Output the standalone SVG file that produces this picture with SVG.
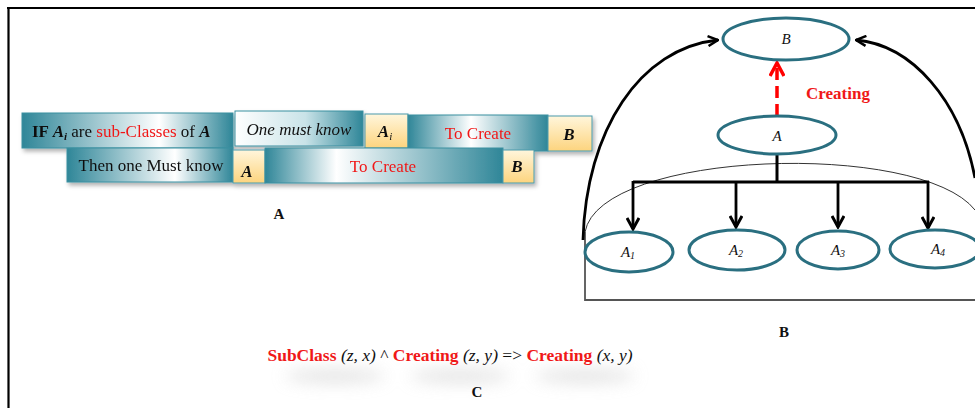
<svg xmlns="http://www.w3.org/2000/svg" width="975" height="408" viewBox="0 0 975 408">
<defs>
<linearGradient id="gT1" x1="0" y1="0" x2="1" y2="0">
<stop offset="0" stop-color="#2f8698"/><stop offset="0.65" stop-color="#ffffff"/><stop offset="1" stop-color="#2f8698"/>
</linearGradient>
<linearGradient id="gT2" x1="0" y1="0" x2="1" y2="0">
<stop offset="0" stop-color="#ffffff"/><stop offset="0.55" stop-color="#c9e3e8"/><stop offset="1" stop-color="#2f8698"/>
</linearGradient>
<linearGradient id="gT3" x1="0" y1="0" x2="1" y2="0">
<stop offset="0" stop-color="#2f8698"/><stop offset="0.45" stop-color="#ffffff"/><stop offset="1" stop-color="#2f8698"/>
</linearGradient>
<linearGradient id="gT4" x1="0" y1="0" x2="1" y2="0">
<stop offset="0" stop-color="#2f8698"/><stop offset="0.3" stop-color="#ffffff"/><stop offset="1" stop-color="#2f8698"/>
</linearGradient>
<linearGradient id="gY" x1="0" y1="0" x2="0" y2="1">
<stop offset="0" stop-color="#fff6dc"/><stop offset="1" stop-color="#fdd47e"/>
</linearGradient>
<filter id="sh" x="-10%" y="-20%" width="130%" height="160%">
<feDropShadow dx="2" dy="3" stdDeviation="2" flood-color="#000" flood-opacity="0.3"/>
</filter>
<filter id="blur" x="-50%" y="-200%" width="200%" height="500%"><feGaussianBlur stdDeviation="8"/></filter>
<marker id="ab" viewBox="0 0 12 12" refX="11" refY="6" markerWidth="12" markerHeight="12" markerUnits="userSpaceOnUse" orient="auto">
<path d="M1,1 L11,6 L1,11" fill="none" stroke="#000" stroke-width="2.5"/>
</marker>
<marker id="ad" viewBox="0 0 14 14" refX="12" refY="7" markerWidth="14" markerHeight="14" markerUnits="userSpaceOnUse" orient="auto">
<path d="M1,1 L12,7 L1,13" fill="none" stroke="#000" stroke-width="3"/>
</marker>
<marker id="ar" viewBox="0 0 16 16" refX="14" refY="8" markerWidth="16" markerHeight="16" markerUnits="userSpaceOnUse" orient="auto">
<path d="M1,1 L14,8 L1,15" fill="none" stroke="#f00" stroke-width="3.5"/>
</marker>
</defs>
<style>
text{font-family:"Liberation Serif","Times New Roman",serif;fill:#111}
.box{stroke:#3b8fa0;stroke-width:1}
.yb{fill:url(#gY);stroke:#4a9aab;stroke-width:1}
.t16{font-size:17px}
.red{fill:#f01818}
.bi{font-weight:bold;font-style:italic}
.it{font-style:italic}
.ell{fill:#fff;stroke:#2a6f80;stroke-width:3}
.lab{font-size:15px;font-weight:bold;text-anchor:middle}
</style>
<rect width="975" height="408" fill="#fff"/>
<!-- frame -->
<path d="M7,8 H975 M8.5,8 V408" stroke="#000" stroke-width="2.2" fill="none"/>

<!-- Panel A -->
<g id="panelA" filter="url(#sh)">
<g id="a-if"><rect class="box" x="22" y="113" width="211" height="35" fill="url(#gT1)"/>
<text class="t16" x="32" y="137"><tspan font-weight="bold">IF </tspan><tspan class="bi">A</tspan><tspan class="bi" font-size="11" dy="3">i</tspan><tspan dy="-3"> are </tspan><tspan class="red">sub-Classes</tspan><tspan> of </tspan><tspan class="bi">A</tspan></text></g>
<g id="a-know"><rect class="box" x="235" y="111" width="128" height="35" fill="url(#gT2)"/>
<text class="t16 it" x="299" y="135" text-anchor="middle">One must know</text></g>
<g id="a-ai"><rect class="yb" x="365" y="114" width="43" height="34"/>
<text class="t16" x="385" y="137" text-anchor="middle"><tspan class="bi">A</tspan><tspan class="it" font-size="11" dy="3">i</tspan></text></g>
<g id="a-create1"><rect class="box" x="408" y="115" width="140" height="36" fill="url(#gT3)"/>
<text class="t16 red" x="478" y="139" text-anchor="middle">To Create</text></g>
<g id="a-b1"><rect class="yb" x="548" y="116" width="44" height="35"/>
<text class="t16 bi" x="569" y="140" text-anchor="middle">B</text></g>
<g id="a-then"><rect class="box" x="67" y="148" width="166" height="34" fill="url(#gT1)"/>
<text class="t16" x="151" y="171" text-anchor="middle">Then one Must know</text></g>
<g id="a-a"><rect class="yb" x="233" y="150" width="32" height="33"/>
<text class="t16 bi" x="247" y="177" text-anchor="middle">A</text></g>
<g id="a-create2"><rect class="box" x="265" y="148" width="238" height="35" fill="url(#gT4)"/>
<text class="t16 red" x="383" y="172" text-anchor="middle">To Create</text></g>
<g id="a-b2"><rect class="yb" x="503" y="150" width="31" height="33"/>
<text class="t16 bi" x="517" y="172" text-anchor="middle">B</text></g>
</g>
<text class="lab" x="279" y="219">A</text>

<!-- Panel B -->
<g id="connectors" fill="none">
<path d="M585,232 C600,150 920,140 975,210" stroke="#333" stroke-width="1"/>
<path d="M585,232 V300 H975" stroke="#555" stroke-width="1.8"/>
<path d="M583,240 C586,130 640,48 718,40" stroke="#000" stroke-width="2.8" marker-end="url(#ab)"/>
<path d="M975,178 C960,100 912,45 856,40" stroke="#000" stroke-width="2.8" marker-end="url(#ab)"/>
<path d="M777,116 V63" stroke="#f00" stroke-width="3.5" stroke-dasharray="12,6" marker-end="url(#ar)"/>
<path d="M777,154 V182 M633,182 H929" stroke="#000" stroke-width="3"/>
<path d="M633,181 V229" stroke="#000" stroke-width="2.8" marker-end="url(#ad)"/>
<path d="M736,181 V227" stroke="#000" stroke-width="2.8" marker-end="url(#ad)"/>
<path d="M838,181 V227" stroke="#000" stroke-width="2.8" marker-end="url(#ad)"/>
<path d="M928,181 V228" stroke="#000" stroke-width="2.8" marker-end="url(#ad)"/>
</g>
<text x="806" y="99" font-size="17" font-weight="bold" style="fill:#f01818">Creating</text>
<g id="nB"><ellipse class="ell" cx="786" cy="39" rx="63" ry="21"/><text class="it" x="786" y="44" font-size="15" text-anchor="middle">B</text></g>
<g id="nA"><ellipse class="ell" cx="777" cy="135" rx="59" ry="19"/><text class="it" x="777" y="141" font-size="15" text-anchor="middle">A</text></g>
<g id="nA1"><ellipse class="ell" cx="629" cy="252" rx="44" ry="20"/><text class="it" x="628" y="257" font-size="15" text-anchor="middle">A<tspan font-size="10" dy="2">1</tspan></text></g>
<g id="nA2"><ellipse class="ell" cx="737" cy="250" rx="48" ry="20"/><text class="it" x="736" y="255" font-size="15" text-anchor="middle">A<tspan font-size="10" dy="2">2</tspan></text></g>
<g id="nA3"><ellipse class="ell" cx="838" cy="250" rx="41" ry="19"/><text class="it" x="838" y="255" font-size="15" text-anchor="middle">A<tspan font-size="10" dy="2">3</tspan></text></g>
<g id="nA4"><ellipse class="ell" cx="935" cy="249" rx="45" ry="19"/><text class="it" x="938" y="254" font-size="15" text-anchor="middle">A<tspan font-size="10" dy="2">4</tspan></text></g>
<text class="lab" x="784" y="337">B</text>

<!-- Panel C -->
<g fill="#cfcfcf" filter="url(#blur)" opacity="0.55">
<ellipse cx="335" cy="376" rx="50" ry="7"/>
<ellipse cx="460" cy="376" rx="50" ry="7"/>
<ellipse cx="585" cy="376" rx="50" ry="7"/>
</g>
<text x="450" y="361" font-size="17.5" text-anchor="middle"><tspan class="red" font-weight="bold">SubClass</tspan> <tspan class="it">(z, x)</tspan> ^ <tspan class="red" font-weight="bold">Creating</tspan> <tspan class="it">(z, y)</tspan>  =&gt; <tspan class="red" font-weight="bold">Creating</tspan> <tspan class="it">(x, y)</tspan></text>
<text class="lab" x="477" y="397">C</text>
</svg>
